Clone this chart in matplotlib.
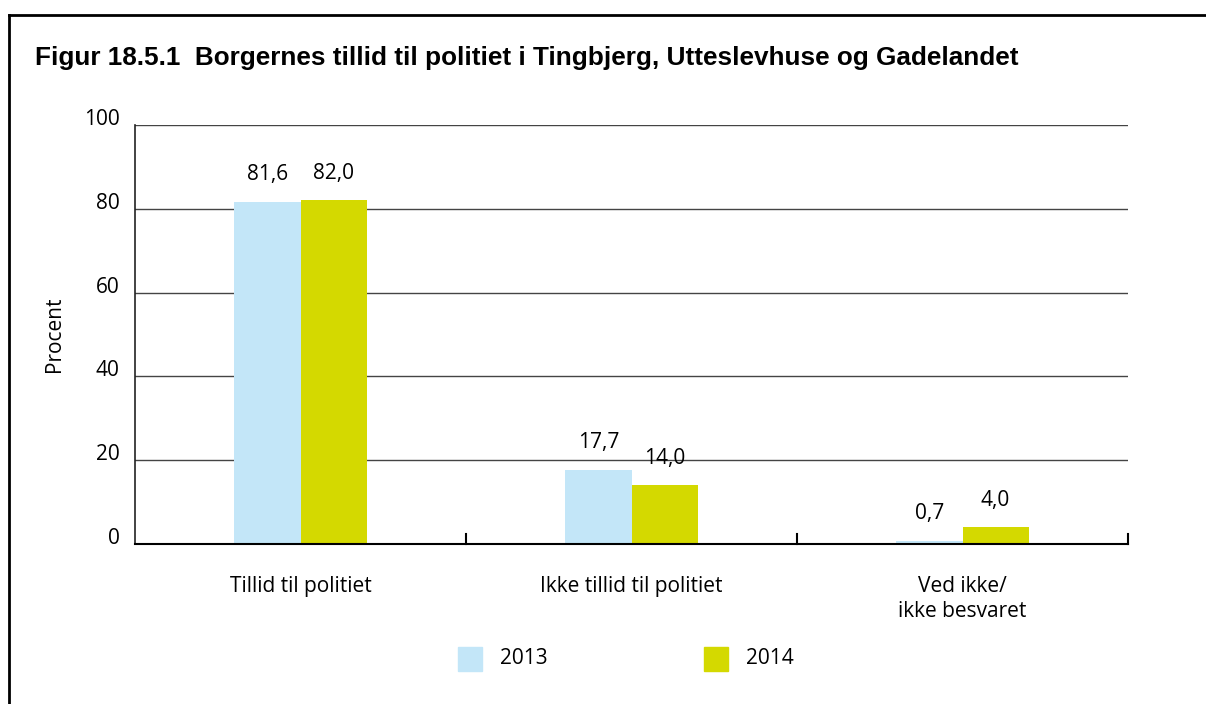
import matplotlib.pyplot as plt
import matplotlib.transforms as mtransforms
from matplotlib.lines import Line2D
from matplotlib.patches import Rectangle
import numpy as np

# data
categories = ["Tillid til politiet", "Ikke tillid til politiet", "Ved ikke/\nikke besvaret"]
years = ["2013", "2014"]
values_2013 = [81.6, 17.7, 0.7]
values_2014 = [82.0, 14.0, 4.0]
colors = ["#c3e6f8", "#d4d900"]
yticks = [0, 20, 40, 60, 80, 100]

plt.rcParams['font.family'] = ['Open Sans', 'DejaVu Sans']
FS = 15

fig = plt.figure(figsize=(12.06, 7.04), dpi=100)
ax = fig.add_axes([135/1206, 1-544/704, (1128-135)/1206, (544-125)/704])

x = np.arange(len(categories))
w = 0.2
series = [values_2013, values_2014]
for i, vals in enumerate(series):
    offs = (i - 0.5) * w
    bars = ax.bar(x + offs, vals, width=w, color=colors[i], zorder=3, label=years[i])
    for b, v in zip(bars, vals):
        ax.annotate(f"{v:.1f}".replace(".", ","), (b.get_x() + b.get_width()/2, v),
                    xytext=(0, 12), textcoords="offset points",
                    ha="center", va="bottom", fontsize=FS)

ax.set_xlim(-0.5, len(categories) - 0.5)
ax.set_ylim(0, 100)

# gridlines
for t in yticks[1:]:
    ax.axhline(t, color="#444444", lw=1.0, zorder=1)

ax.set_yticks(yticks)
ax.set_yticklabels([str(t) for t in yticks], fontsize=FS)
ax.tick_params(axis="y", length=0, pad=11)
offset = mtransforms.ScaledTranslation(0, 8/100, fig.dpi_scale_trans)
for lab in ax.get_yticklabels():
    lab.set_transform(lab.get_transform() + offset)

# category separators as upward ticks
ax.set_xticks(x)
ax.set_xticklabels(categories, fontsize=FS, linespacing=1.25)
ax.tick_params(axis="x", length=0, pad=23)
for b in np.arange(0.5, len(categories), 1.0):
    ax.plot([b, b], [0, 2.4], color="black", lw=1.5, zorder=4, clip_on=False)

for s in ["top", "right"]:
    ax.spines[s].set_visible(False)
ax.spines["left"].set_color("#222222")
ax.spines["bottom"].set_color("black")
ax.spines["left"].set_linewidth(1.2)
ax.spines["bottom"].set_linewidth(1.5)
ax.spines["bottom"].set_zorder(5)

ax.set_ylabel("Procent", fontsize=FS)
ax.yaxis.set_label_coords(-0.07, 0.5)

# title
fig.text(35/1206, 1-58/704, "Figur 18.5.1  Borgernes tillid til politiet i Tingbjerg, Utteslevhuse og Gadelandet",
         fontsize=18.8, fontweight="bold", ha="left", va="center", family="Liberation Sans")

# legend
for xs, col, lab in zip([458, 704], colors, years):
    fig.add_artist(Rectangle((xs/1206, 1-671/704), 24/1206, 24/704, color=col,
                             transform=fig.transFigure))
    fig.text((xs + 42)/1206, 1-659/704, lab, fontsize=FS, ha="left", va="center")

# frame (top and left only)
fig.add_artist(Line2D([8.5/1206, 1.0], [1-15/704, 1-15/704], color="black", lw=2.0))
fig.add_artist(Line2D([8.5/1206, 8.5/1206], [0, 1-15/704], color="black", lw=2.0))

fig.savefig("out.png", dpi=100)
